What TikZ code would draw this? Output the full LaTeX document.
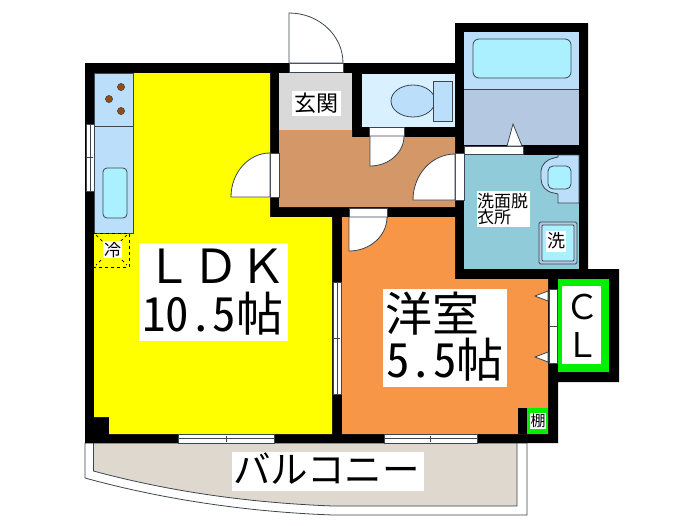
\documentclass[tikz,border=0pt]{standalone}
\usepackage{fontspec}
\usetikzlibrary{calc}
\newfontfamily\cjk{Noto Sans CJK JP}
\newfontfamily\cjkhw[RawFeature=+hwid]{Noto Sans CJK JP}
\definecolor{ldk}{RGB}{255,255,0}
\definecolor{hallc}{RGB}{212,152,104}
\definecolor{roomc}{RGB}{247,150,70}
\definecolor{genkanc}{RGB}{217,217,217}
\definecolor{wetc}{RGB}{187,222,251}
\definecolor{tubc}{RGB}{170,240,255}
\definecolor{toiletc}{RGB}{216,240,255}
\definecolor{washc}{RGB}{181,200,226}
\definecolor{dressc}{RGB}{144,203,217}
\definecolor{balc}{RGB}{223,216,207}
\definecolor{lime}{RGB}{0,240,0}
\definecolor{lineg}{RGB}{60,70,80}
\definecolor{burner}{RGB}{150,75,15}
\tikzset{
  thinl/.style={draw=lineg,line width=0.8pt},
  fixture/.style={thinl,fill=#1},
  textbg/.style={fill=white,draw=none},
  jp/.style={inner sep=0pt,outer sep=0pt,text=black,font=\cjk},
}
\newcommand{\doorleaf}[3]{% hinge, leaf end, closed end
  \path[fill=white,draw=lineg,line width=0.8pt] (#1) -- (#2)
    .. controls ($(#2)+0.5523*(#3)-0.5523*(#1)$) and ($(#3)+0.5523*(#2)-0.5523*(#1)$) .. (#3) -- cycle;}
\newcommand{\hwin}[4]{% x1,x2,y1,y2
  \path[fill=white,draw=lineg,line width=0.6pt] (#1,#3) rectangle (#2,#4);
  \draw[lineg,line width=0.6pt] (#1,{(#3+#4)/2}) -- (#2,{(#3+#4)/2});
  \draw[lineg,line width=0.6pt] ({(#1+#2)/2},{#3+1}) -- ({(#1+#2)/2},{#4-1});}
\newcommand{\vwin}[4]{% x1,x2,y1,y2
  \path[fill=white,draw=lineg,line width=0.6pt] (#1,#3) rectangle (#2,#4);
  \draw[lineg,line width=0.6pt] ({(#1+#2)/2},#3) -- ({(#1+#2)/2},#4);
  \draw[lineg,line width=0.6pt] ({#1+1},{(#3+#4)/2}) -- ({#2-1},{(#3+#4)/2});}
\begin{document}
\begin{tikzpicture}[x=1pt,y=-1pt]
\useasboundingbox (0,0) rectangle (700,525);
% balcony
\path[fill=white,draw=lineg,line width=0.8pt] (85,443) -- (85,478) .. controls (165,500) and (250,512) .. (333,515) -- (527,515) -- (527,443) -- cycle;
\path[fill=balc,draw=lineg,line width=0.8pt] (93.5,443) -- (93.5,471) .. controls (175,493) and (255,503) .. (333,506) -- (517,506) -- (517,443) -- cycle;
% walls
\fill[black] (85,63) -- (455,63) -- (455,23) -- (588,23) -- (588,269) -- (619,269) -- (619,382) -- (558,382) -- (558,443) -- (85,443) -- cycle;
% rooms
\fill[ldk] (94,73) -- (270,73) -- (270,217) -- (332,217) -- (332,434) -- (109,434) -- (109,417) -- (94,417) -- cycle;
\fill[genkanc] (279,73) rectangle (352,130);
\fill[hallc] (279,130) -- (352,130) -- (352,137) -- (455,137) -- (455,207) -- (279,207) -- cycle;
\fill[roomc] (342,217) -- (455,217) -- (455,279) -- (548,279) -- (548,434) -- (342,434) -- cycle;
\fill[toiletc] (362,74) rectangle (455,127);
\fill[wetc] (464,32) rectangle (579,89);
\fill[washc] (464,89) rectangle (579,145);
\draw[lineg,line width=0.8pt] (464,89) -- (579,89);
\fill[dressc] (464,155) rectangle (579,269);
\fill[lime] (558,279) rectangle (609,372);
\fill[black] (518,408) rectangle (527,434);
\fill[lime] (527,408) rectangle (548,434);
% kitchen
\path[fixture=wetc] (94,73) rectangle (133,233);
\draw[thinl] (94,126) -- (133,126);
\fill[burner,draw=lineg,line width=0.5pt] (121,87) circle[radius=3.6] (109,99) circle[radius=3.6] (121,111) circle[radius=3.6];
\path[fixture=tubc,rounded corners=4pt] (103,168) rectangle (127,218);
% fridge
\draw[black,dashed,line width=0.8pt] (94,233) -- (129,233) -- (129,267) -- (94,267);
\draw[black,dashed,line width=0.7pt] (96,235) -- (127,265) (127,235) -- (96,265);
% tub and toilet
\path[fixture=tubc,rounded corners=6pt] (473,39) rectangle (571,78);
\path[fixture=wetc] (413,101) ellipse[x radius=22,y radius=16];
\path[fixture=wetc] (433,81) rectangle (452,121);
% basin
\path[fixture=wetc] (558,155) -- (579,155) -- (579,203) -- (558,203) -- (558,194) -- (554,193) .. controls (546,192) and (541,186) .. (541,179) -- (541,171) .. controls (541,165) and (547,159) .. (554,158) -- (558,157) -- cycle;
\path[fixture=tubc,rounded corners=5pt] (548,166) rectangle (571,189);
% washer
\path[fixture=washc,rounded corners=1.5pt] (539,222) rectangle (577,264);
\path[fixture=tubc,rounded corners=1pt] (542,225) rectangle (574,261);
% windows
\vwin{86}{94}{124}{191}
\vwin{333}{341}{282}{394}
\hwin{178}{274}{434.5}{443}
\hwin{384}{477}{434.5}{443}
% openings and doors
\path[fill=white,draw=lineg,line width=0.6pt] (289,63.5) rectangle (343,72.5);
\doorleaf{289,63}{289,13}{343,63}
\path[fill=white,draw=lineg,line width=0.6pt] (270.5,153) rectangle (279,197);
\doorleaf{270,197}{231,197}{270,153}
\path[fill=white,draw=lineg,line width=0.6pt] (369,127.5) rectangle (404,136);
\doorleaf{370,136}{370,166}{404,136}
\path[fill=white,draw=lineg,line width=0.6pt] (455.5,153) rectangle (464,200);
\doorleaf{455,200}{413,200}{455,154}
\path[fill=white,draw=lineg,line width=0.6pt] (349,208) rectangle (387,217);
\doorleaf{349,217}{349,251}{387,217}
\path[fill=white,draw=lineg,line width=0.6pt] (464,146) rectangle (523,154);
\path[fill=white,draw=lineg,line width=0.8pt] (507,146) -- (513,124) -- (522,146) -- cycle;
% closet doors
\path[fill=white,draw=lineg,line width=0.6pt] (549,289) rectangle (557,326);
\path[fill=white,draw=lineg,line width=0.6pt] (549,326) rectangle (557,363);
\path[fill=white,draw=lineg,line width=0.8pt] (548,291) -- (535,296) -- (548,301) -- cycle;
\path[fill=white,draw=lineg,line width=0.8pt] (548,352) -- (535,357) -- (548,362) -- cycle;
% text backgrounds
\fill[textbg] (139,243) rectangle (288,341);
\fill[textbg] (383,289) rectangle (507,387);
\fill[textbg] (562,286) rectangle (601,364);
\fill[textbg] (232,452) rectangle (424,491);
\fill[textbg] (292,91) rectangle (341,116);
\fill[textbg] (477,191) rectangle (530,227);
\fill[textbg] (103,241) rectangle (122,258);
\fill[textbg] (546,231) rectangle (566,252);
\fill[textbg] (530,413) rectangle (546,429);
% labels
\node[jp,anchor=base west] (ldk1) at (145,283) {\fontsize{47}{47}\selectfont ＬＤＫ};
\node[jp,anchor=base west] (ldk2) at (142,331) {\fontsize{47}{47}\selectfont{\cjkhw 10.5}帖};
\node[jp,anchor=base west] (yo1) at (385,331) {\fontsize{47}{47}\selectfont 洋室};
\node[jp,anchor=base west] (yo2) at (386,377) {\fontsize{47}{47}\selectfont{\cjkhw 5.5}帖};
\node[jp,anchor=base] (cl1) at (582,319) {\fontsize{34}{34}\selectfont Ｃ};
\node[jp,anchor=base] (cl2) at (582,357) {\fontsize{34}{34}\selectfont Ｌ};
\node[jp,anchor=base west] (bal) at (233,483) {\fontsize{37.5}{37.5}\selectfont バルコニー};
\node[jp,anchor=base] (gen) at (316.5,111) {\fontsize{22}{22}\selectfont 玄関};
\node[jp,anchor=base west,align=left] (sen1) at (477,207) {\fontsize{17}{17}\selectfont 洗面脱};
\node[jp,anchor=base west,align=left] (sen2) at (477,223) {\fontsize{17}{17}\selectfont 衣所};
\node[jp,anchor=base] (rei) at (112.5,256) {\fontsize{17}{17}\selectfont 冷};
\node[jp,anchor=base] (sen) at (556,247) {\fontsize{18}{18}\selectfont 洗};
\node[jp,anchor=base] (tana) at (538,426) {\fontsize{15}{15}\selectfont 棚};
\end{tikzpicture}
\end{document}
